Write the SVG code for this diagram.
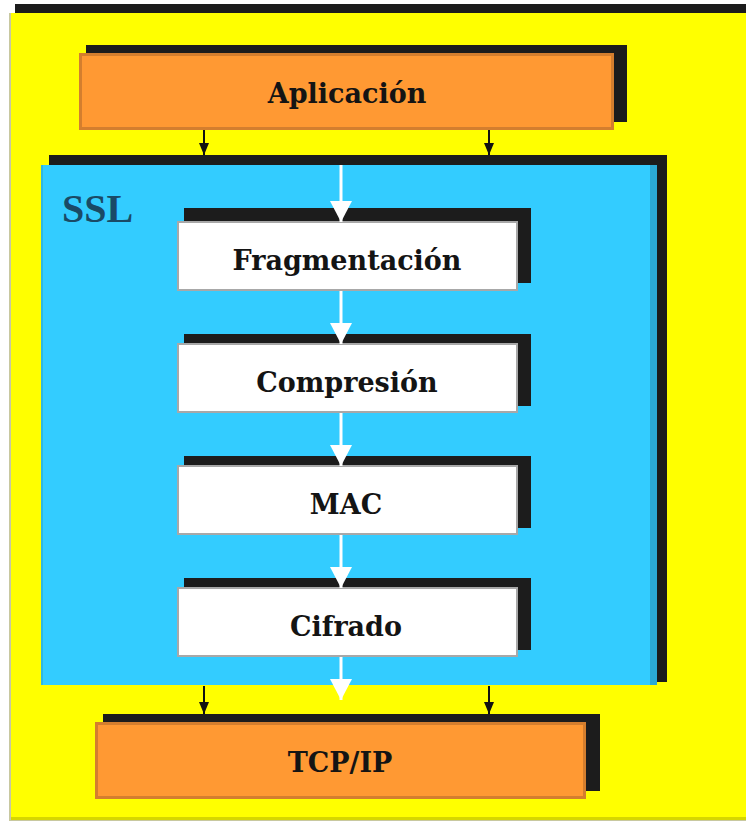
<svg xmlns="http://www.w3.org/2000/svg" width="746" height="823" viewBox="0 0 746 823">
  <defs>
    <style>
      .shadow { fill: #1c1c1c; }
      .orange { fill: #FF9933; stroke: #D47E2E; stroke-width: 3; }
      .white { fill: #FFFFFF; stroke: #A8A8A8; stroke-width: 2; }
      .label { font-family: "DejaVu Serif", "Liberation Serif", serif; font-weight: bold; font-size: 27px; fill: #141414; text-anchor: middle; }
      .title { font-family: "Liberation Serif", "DejaVu Serif", serif; font-weight: bold; font-size: 40px; fill: #1A4A66; }
      .blk { stroke: #111; stroke-width: 2; fill: none; }
      .wht { stroke: #FFFFFF; stroke-width: 3; fill: none; }
    </style>
    <marker id="headBlack" viewBox="0 0 12 10" refX="12" refY="5" markerWidth="12" markerHeight="10" markerUnits="userSpaceOnUse" orient="auto">
      <path d="M0,0 L12,5 L0,10 Z" fill="#111"/>
    </marker>
    <marker id="headWhite" viewBox="0 0 21 22" refX="21" refY="11" markerWidth="21" markerHeight="22" markerUnits="userSpaceOnUse" orient="auto">
      <path d="M0,0 L21,11 L0,22 Z" fill="#FFFFFF"/>
    </marker>
  </defs>

  <!-- page background -->
  <rect x="0" y="0" width="746" height="823" fill="#FFFFFF"/>

  <!-- outer frame -->
  <g id="frame">
    <rect x="15" y="4" width="731" height="9" class="shadow"/>
    <rect x="9" y="13" width="737" height="808" fill="#C8C8A0"/>
    <rect x="11" y="13" width="735" height="806" fill="#FFFF00"/>
    <rect x="11" y="817" width="735" height="3" fill="#D6D600"/>
  </g>

  <!-- application layer -->
  <g id="aplicacion">
    <rect x="86" y="45" width="541" height="77" class="shadow"/>
    <rect x="80.5" y="54.5" width="532" height="74" class="orange"/>
    <text x="347" y="103" class="label">Aplicación</text>
  </g>

  <!-- SSL container -->
  <g id="ssl">
    <rect x="49" y="155" width="618" height="527" class="shadow"/>
    <rect x="41" y="165" width="616" height="520" fill="#33CCFF"/>
    <rect x="650" y="165" width="7" height="520" fill="#2BAAD6"/>
    <rect x="41" y="165" width="2" height="520" fill="#2FB8E0"/>
    <text x="62" y="222" class="title">SSL</text>
  </g>

  <g id="fragmentacion">
    <rect x="184" y="208" width="347" height="75" class="shadow"/>
    <rect x="178" y="222" width="339" height="68" class="white"/>
    <text x="347" y="270" class="label">Fragmentación</text>
  </g>

  <g id="compresion">
    <rect x="184" y="334" width="347" height="72" class="shadow"/>
    <rect x="178" y="344" width="339" height="68" class="white"/>
    <text x="347" y="392" class="label">Compresión</text>
  </g>

  <g id="mac">
    <rect x="184" y="456" width="347" height="72" class="shadow"/>
    <rect x="178" y="466" width="339" height="68" class="white"/>
    <text x="346" y="514" class="label">MAC</text>
  </g>

  <g id="cifrado">
    <rect x="184" y="578" width="347" height="72" class="shadow"/>
    <rect x="178" y="588" width="339" height="68" class="white"/>
    <text x="346" y="636" class="label">Cifrado</text>
  </g>

  <!-- transport layer -->
  <g id="tcpip">
    <rect x="103" y="714" width="497" height="77" class="shadow"/>
    <rect x="96.5" y="723.5" width="488" height="74" class="orange"/>
    <text x="340" y="772" class="label">TCP/IP</text>
  </g>

  <!-- connectors -->
  <g id="connectors">
    <!-- black arrows between layers -->
    <line x1="204" y1="130" x2="204" y2="155" class="blk" marker-end="url(#headBlack)"/>
    <line x1="489" y1="130" x2="489" y2="155" class="blk" marker-end="url(#headBlack)"/>
    <line x1="204" y1="686" x2="204" y2="714" class="blk" marker-end="url(#headBlack)"/>
    <line x1="489" y1="686" x2="489" y2="714" class="blk" marker-end="url(#headBlack)"/>

    <!-- white data flow through SSL, one segment per stage -->
    <line x1="341" y1="165" x2="341" y2="222" class="wht" marker-end="url(#headWhite)"/>
    <line x1="341" y1="291" x2="341" y2="344" class="wht" marker-end="url(#headWhite)"/>
    <line x1="341" y1="413" x2="341" y2="466" class="wht" marker-end="url(#headWhite)"/>
    <line x1="341" y1="535" x2="341" y2="588" class="wht" marker-end="url(#headWhite)"/>
    <line x1="341" y1="657" x2="341" y2="700" class="wht" marker-end="url(#headWhite)"/>
  </g>
</svg>
